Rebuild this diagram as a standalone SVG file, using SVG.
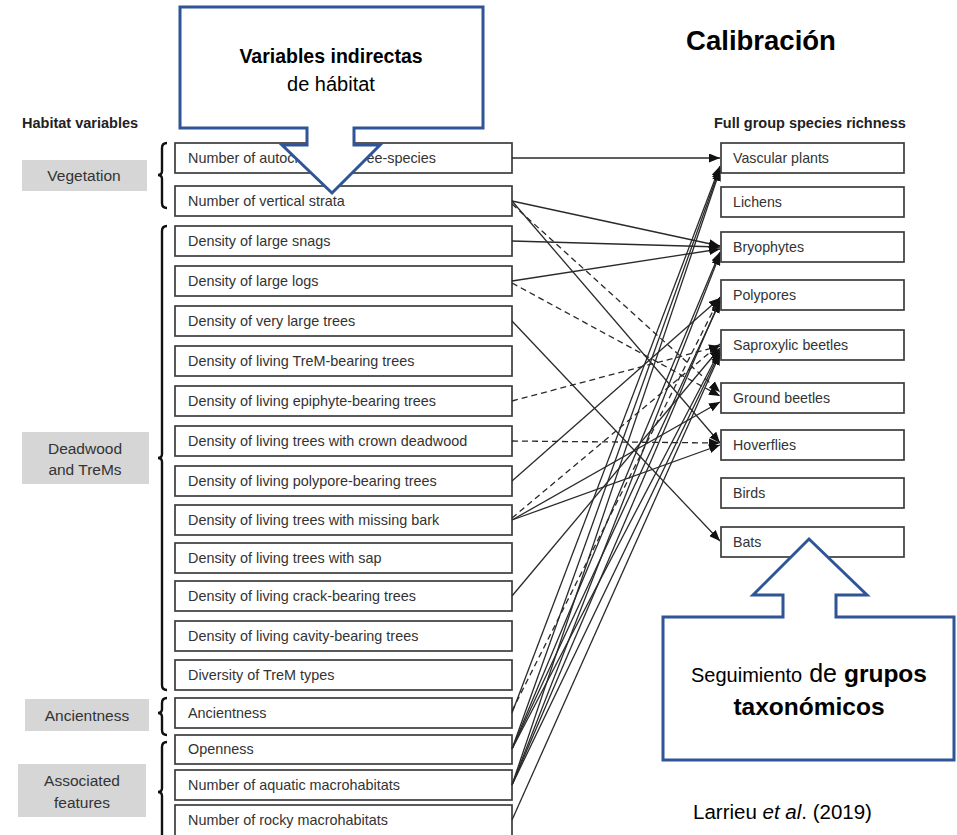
<svg xmlns="http://www.w3.org/2000/svg" width="957" height="835" viewBox="0 0 957 835">
<style>
.box{fill:#fff;stroke:#3c3c3c;stroke-width:1.7}
.grp{fill:#d6d6d6}
.lbl{font-family:"Liberation Sans",Arial,sans-serif;font-size:14.4px;fill:#333}
.rl{font-size:14.2px}
.glbl{font-family:"Liberation Sans",Arial,sans-serif;font-size:15.5px;fill:#333;text-anchor:middle}
.hdr{font-family:"Liberation Sans",Arial,sans-serif;font-size:14.5px;font-weight:bold;fill:#222}
.brace{fill:none;stroke:#111;stroke-width:2.4}
.c{fill:none;stroke:#2a2a2a;stroke-width:1.3;marker-end:url(#ah)}
.d{stroke-dasharray:6,4}
.call{fill:#fff;stroke:#2F5597;stroke-width:3}
.ct{font-family:"Liberation Sans",Arial,sans-serif;fill:#000;text-anchor:middle}
</style>
<defs>
<marker id="ah" markerUnits="userSpaceOnUse" markerWidth="11" markerHeight="9" refX="11" refY="4.5" orient="auto">
<path d="M0,0 L11,4.5 L0,9 z" fill="#111"/>
</marker>
</defs>
<rect width="957" height="835" fill="#fff"/>

<text class="hdr" x="22" y="128">Habitat variables</text>
<text class="hdr" x="714" y="128">Full group species richness</text>

<g id="group-vegetation"><rect class="grp" x="22" y="160" width="125" height="31"/><text class="glbl" x="84" y="181">Vegetation</text>
<path class="brace" d="M167,143 Q162,143 162,148 L162,171 Q162,175 158,175 Q162,175 162,179 L162,203 Q162,208 167,208"/></g>
<g id="group-deadwood"><rect class="grp" x="22" y="432" width="127" height="52"/><text class="glbl" x="85" y="454">Deadwood</text><text class="glbl" x="85" y="475">and TreMs</text>
<path class="brace" d="M167,226 Q162,226 162,231 L162,454 Q162,458 158,458 Q162,458 162,462 L162,685 Q162,690 167,690"/></g>
<g id="group-ancientness"><rect class="grp" x="25" y="699" width="124" height="32"/><text class="glbl" x="87" y="721">Ancientness</text>
<path class="brace" d="M167,698 Q162,698 162,703 L162,709 Q162,713 158,713 Q162,713 162,717 L162,730 Q162,735 167,735"/></g>
<g id="group-associated"><rect class="grp" x="18" y="764" width="128" height="53"/><text class="glbl" x="82" y="786">Associated</text><text class="glbl" x="82" y="808">features</text>
<path class="brace" d="M167,742 Q162,742 162,747 L162,788 Q162,792 158,792 Q162,792 162,796 L162,840"/></g>

<g id="left-nodes">
<g id="h1"><rect class="box" x="175" y="143" width="337" height="30"/><text class="lbl" x="188" y="163">Number of autochthonous tree-species</text></g>
<g id="h2"><rect class="box" x="175" y="186" width="337" height="30"/><text class="lbl" x="188" y="206">Number of vertical strata</text></g>
<g id="h3"><rect class="box" x="175" y="226" width="337" height="30"/><text class="lbl" x="188" y="246">Density of large snags</text></g>
<g id="h4"><rect class="box" x="175" y="266" width="337" height="30"/><text class="lbl" x="188" y="286">Density of large logs</text></g>
<g id="h5"><rect class="box" x="175" y="306" width="337" height="30"/><text class="lbl" x="188" y="326">Density of very large trees</text></g>
<g id="h6"><rect class="box" x="175" y="346" width="337" height="30"/><text class="lbl" x="188" y="366">Density of living TreM-bearing trees</text></g>
<g id="h7"><rect class="box" x="175" y="386" width="337" height="30"/><text class="lbl" x="188" y="406">Density of living epiphyte-bearing trees</text></g>
<g id="h8"><rect class="box" x="175" y="426" width="337" height="30"/><text class="lbl" x="188" y="446">Density of living trees with crown deadwood</text></g>
<g id="h9"><rect class="box" x="175" y="466" width="337" height="30"/><text class="lbl" x="188" y="486">Density of living polypore-bearing trees</text></g>
<g id="h10"><rect class="box" x="175" y="505" width="337" height="30"/><text class="lbl" x="188" y="525">Density of living trees with missing bark</text></g>
<g id="h11"><rect class="box" x="175" y="543" width="337" height="30"/><text class="lbl" x="188" y="563">Density of living trees with sap</text></g>
<g id="h12"><rect class="box" x="175" y="581" width="337" height="30"/><text class="lbl" x="188" y="601">Density of living crack-bearing trees</text></g>
<g id="h13"><rect class="box" x="175" y="621" width="337" height="30"/><text class="lbl" x="188" y="641">Density of living cavity-bearing trees</text></g>
<g id="h14"><rect class="box" x="175" y="660" width="337" height="30"/><text class="lbl" x="188" y="680">Diversity of TreM types</text></g>
<g id="h15"><rect class="box" x="175" y="698" width="337" height="30"/><text class="lbl" x="188" y="718">Ancientness</text></g>
<g id="h16"><rect class="box" x="175" y="735" width="337" height="29"/><text class="lbl" x="188" y="754">Openness</text></g>
<g id="h17"><rect class="box" x="175" y="770" width="337" height="30"/><text class="lbl" x="188" y="790">Number of aquatic macrohabitats</text></g>
<g id="h18"><rect class="box" x="175" y="805" width="337" height="32"/><text class="lbl" x="188" y="825">Number of rocky macrohabitats</text></g>
</g>

<g id="right-nodes">
<g id="s1"><rect class="box" x="721" y="143" width="183" height="30"/><text class="lbl rl" x="733" y="163">Vascular plants</text></g>
<g id="s2"><rect class="box" x="721" y="187" width="183" height="30"/><text class="lbl rl" x="733" y="207">Lichens</text></g>
<g id="s3"><rect class="box" x="721" y="232" width="183" height="30"/><text class="lbl rl" x="733" y="252">Bryophytes</text></g>
<g id="s4"><rect class="box" x="721" y="280" width="183" height="30"/><text class="lbl rl" x="733" y="300">Polypores</text></g>
<g id="s5"><rect class="box" x="721" y="330" width="183" height="30"/><text class="lbl rl" x="733" y="350">Saproxylic beetles</text></g>
<g id="s6"><rect class="box" x="721" y="383" width="183" height="30"/><text class="lbl rl" x="733" y="403">Ground beetles</text></g>
<g id="s7"><rect class="box" x="721" y="430" width="183" height="30"/><text class="lbl rl" x="733" y="450">Hoverflies</text></g>
<g id="s8"><rect class="box" x="721" y="478" width="183" height="30"/><text class="lbl rl" x="733" y="498">Birds</text></g>
<g id="s9"><rect class="box" x="721" y="527" width="183" height="30"/><text class="lbl rl" x="733" y="547">Bats</text></g>
</g>

<g id="connectors">
<line class="c" x1="512" y1="158" x2="720" y2="158"/>
<line class="c" x1="512" y1="201" x2="720" y2="246"/>
<line class="c" x1="512" y1="201" x2="720" y2="443"/>
<line class="c" x1="512" y1="241" x2="720" y2="247"/>
<line class="c" x1="512" y1="281" x2="720" y2="249"/>
<line class="c" x1="512" y1="321" x2="720" y2="541"/>
<line class="c" x1="512" y1="481" x2="720" y2="298"/>
<line class="c" x1="512" y1="520" x2="720" y2="402"/>
<line class="c" x1="512" y1="520" x2="720" y2="445"/>
<line class="c" x1="512" y1="596" x2="720" y2="348"/>
<line class="c" x1="512" y1="713" x2="720" y2="166"/>
<line class="c" x1="512" y1="749" x2="720" y2="168"/>
<line class="c" x1="512" y1="749" x2="720" y2="252"/>
<line class="c" x1="512" y1="749" x2="720" y2="302"/>
<line class="c" x1="512" y1="749" x2="720" y2="350"/>
<line class="c" x1="512" y1="785" x2="720" y2="170"/>
<line class="c" x1="512" y1="785" x2="720" y2="254"/>
<line class="c" x1="512" y1="785" x2="720" y2="300"/>
<line class="c" x1="512" y1="785" x2="720" y2="352"/>
<line class="c" x1="512" y1="820" x2="720" y2="354"/>
<line class="c d" x1="512" y1="204" x2="720" y2="392"/>
<line class="c d" x1="512" y1="283" x2="720" y2="396"/>
<line class="c d" x1="512" y1="401" x2="720" y2="346"/>
<line class="c d" x1="512" y1="441" x2="720" y2="443"/>
<line class="c d" x1="512" y1="518" x2="720" y2="344"/>
<line class="c d" x1="512" y1="711" x2="720" y2="297"/>
</g>

<g id="callout-top">
<polygon class="call" points="180,7 483,7 483,128 354,128 354,145 380,145 332,193 282,145 307,145 307,128 180,128"/>
<text class="ct" x="331" y="63" font-size="19.5" font-weight="bold">Variables indirectas</text>
<text class="ct" x="331" y="91" font-size="20">de hábitat</text>
</g>

<g id="callout-bottom">
<polygon class="call" points="663,617 783,617 783,595 753,595 809,539 867,595 836,595 836,617 954,617 954,760 663,760"/>
<text class="ct" x="809" y="682"><tspan font-size="20">Seguimiento</tspan><tspan font-size="25"> de </tspan><tspan font-size="24.5" font-weight="bold">grupos</tspan></text>
<text class="ct" x="809" y="715" font-size="24.5" font-weight="bold">taxonómicos</text>
</g>

<text id="title" x="761" y="50" font-family="'Liberation Sans',Arial,sans-serif" font-size="27.5" font-weight="bold" text-anchor="middle" fill="#000">Calibración</text>
<text id="cite" x="693" y="819" font-family="'Liberation Sans',Arial,sans-serif" font-size="20.5" fill="#000">Larrieu <tspan font-style="italic">et al</tspan>. (2019)</text>
</svg>
